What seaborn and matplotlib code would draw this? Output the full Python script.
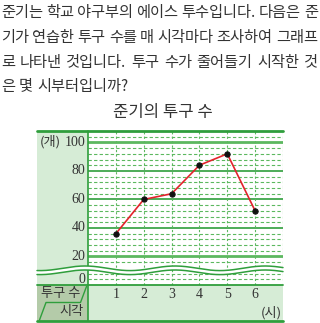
import numpy as np
import pandas as pd
import seaborn as sns
import matplotlib.pyplot as plt
from matplotlib.patches import Rectangle, Polygon
from matplotlib.lines import Line2D

sns.set_theme(style="white")
plt.rcParams['font.family'] = ['Noto Sans CJK KR', 'DejaVu Sans']

# ---- data ----
hours = [1, 2, 3, 4, 5, 6]
pitches = [36, 60, 64, 84, 92, 52]
y_tick_values = [0, 20, 40, 60, 80, 100]
y_tick_labels = ['0', '20', '40', '60', '80', '100']
x_tick_labels = ['1', '2', '3', '4', '5', '6']
question_lines = [
    "준기는 학교 야구부의 에이스 투수입니다. 다음은 준",
    "기가 연습한 투구 수를 매 시각마다 조사하여 그래프",
    "로 나타낸 것입니다. 투구 수가 줄어들기 시작한 것",
    "은 몇 시부터입니까?",
]
title = "준기의 투구 수"
row_label_top = "투구 수"
row_label_bottom = "시각"
y_unit = "(개)"
x_unit = "(시)"

# ---- styles ----
W, H = 320, 323
GREEN = '#2f9e3c'
GREEN_LIGHT = '#5cb85f'
FILL = '#d6ecd6'
HEAD = '#b4cba9'
TEXT = '#333333'
SERIF = 'Liberation Serif'

fig = plt.figure(figsize=(W / 100, H / 100), dpi=100)
fig.patch.set_facecolor('white')


def fx(px):
    return px / W


def fy(py):
    return 1 - py / H


# broken axis: values below 16 are shifted up by 4 (gap 4..16 squeezed)
def fake(v):
    return v if v >= 16 else v + 4


L0, L1, R, TOP, BOT, ROW, TBOT = 37, 88, 283, 131, 285, 303, 321

# background fills
for (x0, y0, x1, y1, c) in [(L0, TOP, L1, BOT, FILL), (L1, BOT, R, TBOT, FILL), (L0, BOT, L1, TBOT, HEAD)]:
    fig.add_artist(Rectangle((fx(x0), fy(y1)), fx(x1) - fx(x0), fy(y0) - fy(y1),
                             transform=fig.transFigure, facecolor=c, edgecolor='none', zorder=-1))

ax = fig.add_axes([fx(L1), fy(BOT), fx(R) - fx(L1), fy(TOP) - fy(BOT)])
ax.set_facecolor('white')
ax.set_xlim(0, 7)
ax.set_ylim(0, 108)
for s in ax.spines.values():
    s.set_visible(False)
ax.set_xticks([])
ax.set_yticks([])

# horizontal grid
for v in range(0, 108, 4):
    if 4 < v < 16:
        continue
    y = fake(v)
    if v % 20 == 0 and v >= 20:
        if v in (20, 100):
            ax.axhline(y, color=GREEN_LIGHT, lw=2.0, zorder=1)
        else:
            ax.axhline(y, color=GREEN, lw=1.2, zorder=1)
    else:
        ax.axhline(y, color=GREEN_LIGHT, lw=0.8, ls=(0, (3, 2)), zorder=1)
# vertical grid
for x in range(1, 8):
    ax.axvline(x, color=GREEN_LIGHT, lw=0.8, ls=(0, (2, 2)), zorder=1)

df = pd.DataFrame({'hour': hours, 'y': [fake(p) for p in pitches]})
sns.lineplot(data=df, x='hour', y='y', ax=ax, color='#e3232c', lw=1.2,
             marker='o', markersize=3.8, markerfacecolor='#111111',
             markeredgecolor='#111111', zorder=5)
ax.set_xlabel('')
ax.set_ylabel('')


# frame lines
def hline(y, x0, x1, lw, color=GREEN):
    fig.add_artist(Line2D([fx(x0), fx(x1)], [fy(y), fy(y)], transform=fig.transFigure,
                          color=color, lw=lw, zorder=6))


hline(TOP, L0, R, 2.0)
hline(BOT, L0, R, 1.3)
hline(TBOT, L0, R, 2.0)
fig.add_artist(Line2D([fx(L1), fx(L1)], [fy(TOP), fy(TBOT)], transform=fig.transFigure,
                      color=GREEN, lw=1.2, zorder=6))
# header diagonal shape
pts = [(86.5, 286.5), (80.5, 302.5), (46, 302.5), (39.5, 320)]
fig.add_artist(Line2D([fx(p[0]) for p in pts], [fy(p[1]) for p in pts], transform=fig.transFigure,
                      color=GREEN, lw=1.0, zorder=6))

# wavy break
xs = np.linspace(L0, R, 300)
wav = 2.3 * np.cos(2 * np.pi * (xs - 85) / 90)
up = 268.3 - wav
lo = 272.3 - wav
fig.add_artist(Polygon(np.column_stack([np.r_[fx(xs), fx(xs[::-1])],
                                        np.r_[fy(up), fy(lo[::-1])]]),
                       closed=True, transform=fig.transFigure, facecolor='white',
                       edgecolor='none', zorder=7))
fig.add_artist(Line2D(fx(xs), fy(up), transform=fig.transFigure, color=GREEN, lw=1.1, zorder=8))
fig.add_artist(Line2D(fx(xs), fy(lo), transform=fig.transFigure, color=GREEN, lw=1.1, zorder=8))

# y tick labels
for v, lab in zip(y_tick_values, y_tick_labels):
    ax.text(-0.1, fake(v), lab, ha='right', va='center', fontsize=10, family=SERIF,
            color=TEXT, zorder=9, clip_on=False)
fig.text(fx(40), fy(142), y_unit, ha='left', va='center', fontsize=9.5, color=TEXT)

# x tick labels (in table row)
for h, lab in zip(hours, x_tick_labels):
    xd = ax.transData.transform((h, 0))[0] / W
    fig.text(xd, fy(294.5), lab, ha='center', va='center', fontsize=10, family=SERIF, color=TEXT)
fig.text(fx(282), fy(312.5), x_unit, ha='right', va='center', fontsize=9.5, color=TEXT)

fig.text(fx(61), fy(294), row_label_top, ha='center', va='center', fontsize=9.5, color=TEXT)
fig.text(fx(72), fy(312), row_label_bottom, ha='center', va='center', fontsize=9.5, color=TEXT)

# title
fig.text(fx(163), fy(113), title, ha='center', va='center', fontsize=12, color=TEXT)

# question text, justified
fig.canvas.draw()
r = fig.canvas.get_renderer()
line_y = [13, 37.5, 62, 86]
for i, line in enumerate(question_lines):
    words = line.split(' ')
    ts = [fig.text(0, fy(line_y[i]), w, ha='left', va='center', fontsize=11, color=TEXT)
          for w in words]
    widths = [t.get_window_extent(r).width for t in ts]
    if i < len(question_lines) - 1:
        gap = (318 - 1 - sum(widths)) / (len(words) - 1)
    else:
        gap = 4.0
    x = 1
    for t, w in zip(ts, widths):
        t.set_x(fx(x))
        x += w + gap

fig.savefig('out.png', dpi=100)
